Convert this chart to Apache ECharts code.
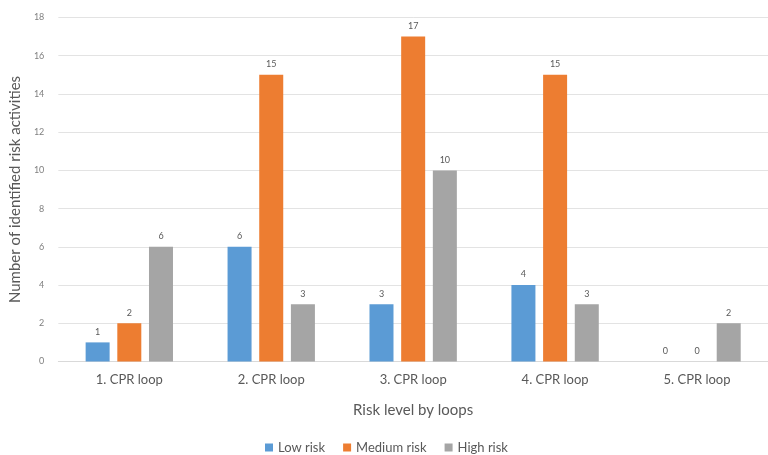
<!DOCTYPE html>
<html>
<head>
<meta charset="utf-8">
<script src="https://cdn.jsdelivr.net/npm/echarts@6/dist/echarts.min.js"></script>
<style>
  html, body { margin: 0; padding: 0; background: #fff; }
  #chart { width: 768px; height: 455px; }
</style>
</head>
<body>
<div id="chart"></div>
<script>
// Risk activities identified per CPR loop, split by risk level
const loops = ['1. CPR loop', '2. CPR loop', '3. CPR loop', '4. CPR loop', '5. CPR loop'];
const lowRisk = [1, 6, 3, 4, 0];
const mediumRisk = [2, 15, 17, 15, 0];
const highRisk = [6, 3, 10, 3, 2];

const FONT = 'Lato, "Open Sans", sans-serif';
const TEXT = '#595959';

const label = {
  show: true,
  position: 'top',
  distance: 6,
  fontSize: 9,
  color: TEXT,
  fontFamily: FONT
};

function bar(name, data, color) {
  return {
    name: name,
    type: 'bar',
    data: data,
    barWidth: 24,
    barGap: '32%',
    itemStyle: { color: color },
    label: label
  };
}

const chart = echarts.init(document.getElementById('chart'), null, { renderer: 'canvas' });
chart.setOption({
  backgroundColor: '#ffffff',
  animation: false,
  textStyle: { fontFamily: FONT },
  grid: { left: 55, top: 17.5, width: 720, height: 344 },
  legend: {
    top: 436,
    left: 260,
    itemWidth: 8,
    itemHeight: 8,
    itemGap: 18,
    icon: 'rect',
    textStyle: { fontSize: 13, color: TEXT, fontFamily: FONT },
    data: ['Low risk', 'Medium risk', 'High risk']
  },
  xAxis: {
    type: 'category',
    data: loops,
    name: 'Risk level by loops',
    nameLocation: 'middle',
    nameGap: 41,
    nameTextStyle: { fontSize: 15, color: TEXT, fontFamily: FONT },
    axisLine: { lineStyle: { color: '#d9d9d9' } },
    axisTick: { show: false },
    axisLabel: { fontSize: 13, color: TEXT, margin: 12, fontFamily: FONT }
  },
  yAxis: {
    type: 'value',
    min: 0,
    max: 18,
    interval: 2,
    name: 'Number of identified risk activities',
    nameLocation: 'middle',
    nameGap: 30,
    nameTextStyle: { fontSize: 15, color: TEXT, fontFamily: FONT },
    axisLine: { show: false },
    axisTick: { show: false },
    axisLabel: { fontSize: 9, color: '#7f7f7f', margin: 14, fontFamily: FONT },
    splitLine: { lineStyle: { color: '#e3e3e3' } }
  },
  series: [
    bar('Low risk', lowRisk, '#5b9bd5'),
    bar('Medium risk', mediumRisk, '#ed7d31'),
    bar('High risk', highRisk, '#a5a5a5')
  ]
});
</script>
</body>
</html>
